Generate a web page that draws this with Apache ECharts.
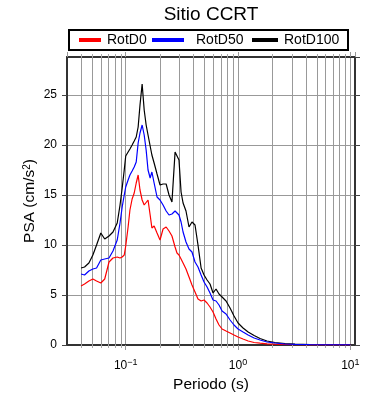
<!DOCTYPE html>
<html>
<head>
<meta charset="utf-8">
<script src="https://cdn.jsdelivr.net/npm/echarts@6/dist/echarts.min.js"></script>
<style>html,body{margin:0;padding:0;background:#fff;}#c{width:390px;height:400px;}</style>
</head>
<body>
<div id="c"></div>
<script>
const periods = [0.040,0.043,0.047,0.051,0.055,0.060,0.065,0.071,0.077,0.084,0.089,0.093,0.097,0.100,0.105,0.109,0.114,0.119,0.124,0.129,0.134,0.140,0.146,0.152,0.158,0.165,0.171,0.179,0.190,0.202,0.215,0.229,0.243,0.258,0.275,0.286,0.298,0.311,0.324,0.344,0.366,0.389,0.414,0.440,0.469,0.498,0.530,0.563,0.599,0.637,0.677,0.721,0.782,0.849,0.921,1.0,1.108,1.23,1.39,1.57,1.81,2.13,2.62,3.22,4.38,5.95,8.09,10.0];
const rotD100 = [7.7,7.8,8.2,9.0,10.0,11.2,10.6,10.9,11.3,12.2,14.0,15.7,17.5,18.9,19.3,19.6,20.0,20.4,20.8,21.8,24.0,26.1,23.5,22.0,21.0,19.9,19.0,18.2,17.1,16.0,16.1,16.1,15.0,14.3,19.3,19.4,18.5,15.3,14.2,13.4,11.8,12.3,12.0,10.0,7.7,7.0,6.5,6.1,5.2,5.6,5.1,4.8,4.4,3.7,2.9,2.2,1.7,1.3,0.95,0.65,0.4,0.25,0.15,0.1,0.05,0.03,0.02,0.02];
const rotD50 = [7.1,7.0,7.4,7.6,7.7,8.5,8.6,8.7,9.4,10.5,12.2,13.8,15.0,15.8,16.5,17.0,17.4,17.8,18.3,20.2,21.2,22.0,21.0,19.5,17.5,16.7,17.3,16.2,14.8,14.5,14.0,13.4,13.0,13.1,13.4,13.3,13.0,12.3,11.3,10.3,9.6,9.3,8.3,7.8,7.0,6.3,5.8,5.2,4.5,4.4,4.0,3.4,3.1,2.5,2.0,1.6,1.3,1.0,0.7,0.5,0.3,0.2,0.1,0.07,0.04,0.02,0.02,0.01];
const rotD0 = [5.9,6.1,6.4,6.6,6.4,6.2,6.6,8.3,8.7,8.8,8.7,8.8,9.0,9.9,11.8,13.5,14.6,15.2,16.2,17.0,15.5,14.5,14.0,14.2,14.5,13.0,11.7,11.9,11.2,10.5,11.6,11.8,11.4,10.9,9.8,9.2,9.0,8.6,8.2,7.6,6.8,6.0,5.3,4.6,4.4,4.5,4.2,3.8,3.3,2.6,2.0,1.6,1.4,1.2,1.0,0.8,0.6,0.4,0.25,0.18,0.12,0.08,0.05,0.03,0.02,0.01,0.01,0.01];
const minorTicks = [0.04,0.05,0.06,0.07,0.08,0.09,0.2,0.3,0.4,0.5,0.6,0.7,0.8,0.9,2,3,4,5,6,7,8,9];
const seriesNames = ['RotD0','RotD50','RotD100'];
const xMin = 0.03, xMax = 11, yMin = 0, yMax = 28.8;

const chart = echarts.init(document.getElementById('c'), null, {renderer:'canvas'});
const font = 'Liberation Sans, Arial, Helvetica, sans-serif';
function pairs(vals){ return periods.map((p,i)=>[p, vals[i]]); }
function supLabel(v){
  const e = Math.round(Math.log10(v));
  return '{b|10}{sup|' + (e < 0 ? '\u2212' + (-e) : e) + '}';
}
const frame = {show:true, onZero:false, lineStyle:{color:'#333', width:2}};
const option = {
  animation:false,
  backgroundColor:'#fff',
  textStyle:{fontFamily:font},
  graphic:[
    {type:'text', x:211, y:15, z:10,
      style:{text:'Sitio CCRT', fontFamily:font, fontSize:19, fill:'#000', textAlign:'center', textVerticalAlign:'middle'}},
    {type:'rect', shape:{x:69, y:30, width:279, height:20},
      style:{fill:'none', stroke:'#000', lineWidth:2}, z:10}],
  legend:[
    {data:['RotD0'], left:79, top:33, itemWidth:22, itemHeight:4, icon:'rect', padding:0,
      textStyle:{fontFamily:font, fontSize:14, color:'#000', padding:[0,0,0,1]}},
    {data:['RotD50'], left:152, top:33, itemWidth:32, itemHeight:4, icon:'rect', padding:0,
      textStyle:{fontFamily:font, fontSize:14, color:'#000', padding:[0,0,0,7]}},
    {data:['RotD100'], left:252, top:33, itemWidth:26, itemHeight:4, icon:'rect', padding:0,
      textStyle:{fontFamily:font, fontSize:14, color:'#000', padding:[0,0,0,1]}}
  ],
  grid:{left:67, right:35, top:57, height:288, containLabel:false},
  xAxis:[{
    type:'log', logBase:10, min:xMin, max:xMax, position:'bottom',
    name:'Periodo (s)', nameLocation:'middle', nameGap:27,
    nameTextStyle:{fontFamily:font, fontSize:15.5, color:'#000'},
    axisLine:frame,
    axisTick:{show:true, length:5, lineStyle:{color:'#999'}},
    axisLabel:{show:true, margin:13, showMinLabel:false, showMaxLabel:false, color:'#000',
      formatter:supLabel,
      rich:{b:{fontFamily:font, fontSize:12, lineHeight:14, verticalAlign:'bottom', color:'#000'},
            sup:{fontFamily:font, fontSize:9, lineHeight:6, verticalAlign:'top', color:'#000'}}},
    splitLine:{show:true, lineStyle:{color:'#999', width:1}},
    minorTick:{show:false}
  },{
    type:'log', logBase:10, min:xMin, max:xMax, position:'top',
    axisLine:frame,
    axisTick:{show:true, length:5, lineStyle:{color:'#999'}},
    axisLabel:{show:false}, splitLine:{show:false}
  }],
  yAxis:[{
    type:'value', min:yMin, max:yMax, interval:5, position:'left',
    name:'PSA (cm/s{sup|2})', nameLocation:'middle', nameGap:29, nameRotate:90, nameMoveOverlap:false,
    nameTextStyle:{fontFamily:font, fontSize:15.5, color:'#000',
      rich:{sup:{fontFamily:font, fontSize:10, verticalAlign:'top', lineHeight:10, color:'#000'}}},
    axisLine:frame,
    axisTick:{show:true, length:5, lineStyle:{color:'#444'}},
    axisLabel:{margin:10, fontSize:12, color:'#000', fontFamily:font, showMaxLabel:false},
    splitLine:{show:true, lineStyle:{color:'#999', width:1}}
  },{
    type:'value', min:yMin, max:yMax, interval:5, position:'right',
    axisLine:frame,
    axisTick:{show:true, length:5, lineStyle:{color:'#444'}},
    axisLabel:{show:false}, splitLine:{show:false}
  }],
  series:[
    {type:'custom', name:'minorgrid', xAxisIndex:0, yAxisIndex:0, z:1, silent:true,
      data:minorTicks.map(v=>[v, 0]),
      encode:{x:0, y:1},
      renderItem:function(params, api){
        const v = api.value(0);
        const b = api.coord([v, yMin]);
        const t = api.coord([v, yMax]);
        const x = Math.round(b[0]) + 0.5;
        return {type:'group', children:[
          {type:'line', shape:{x1:x, y1:t[1], x2:x, y2:b[1]}, style:{stroke:'#999', lineWidth:1}},
          {type:'line', shape:{x1:x, y1:b[1], x2:x, y2:b[1]+3}, style:{stroke:'#aaa', lineWidth:1}},
          {type:'line', shape:{x1:x, y1:t[1]-3, x2:x, y2:t[1]}, style:{stroke:'#aaa', lineWidth:1}}
        ]};
      }, clip:false},
    {type:'line', name:'RotD100', data:pairs(rotD100), showSymbol:false, symbol:'none', z:3,
      lineStyle:{color:'#000', width:1.2}, itemStyle:{color:'#000'}},
    {type:'line', name:'RotD0', data:pairs(rotD0), showSymbol:false, symbol:'none', z:4,
      lineStyle:{color:'#ff0000', width:1.2}, itemStyle:{color:'#ff0000'}},
    {type:'line', name:'RotD50', data:pairs(rotD50), showSymbol:false, symbol:'none', z:5,
      lineStyle:{color:'#0000ff', width:1.2}, itemStyle:{color:'#0000ff'}}
  ]
};
chart.setOption(option);
</script>
</body>
</html>
